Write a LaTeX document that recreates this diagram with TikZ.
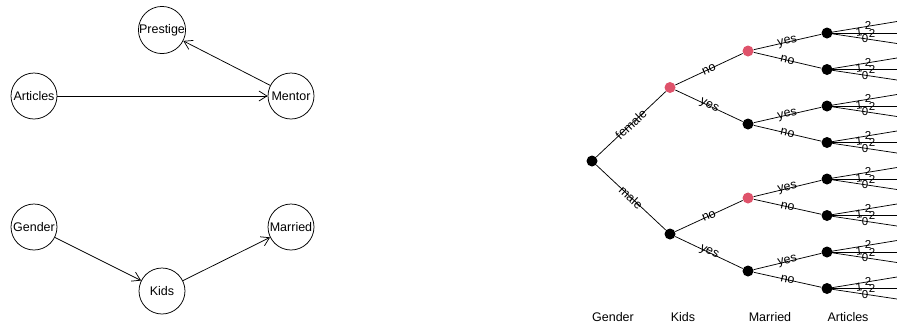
\documentclass[tikz,border=0pt]{standalone}
\usepackage{fontspec}
\setmainfont{Liberation Sans}
\usetikzlibrary{arrows.meta}
\definecolor{pinkred}{HTML}{DF536B}
\begin{document}
\begin{tikzpicture}[x=1pt,y=-1pt, line width=0.75pt,
 var/.style={circle, draw, minimum size=46pt, inner sep=0pt, font=\fontsize{12.5}{13}\selectfont},
 dag/.style={-{Straight Barb[length=8pt,width=10pt]}},
 dot/.style={circle, fill=black, minimum size=11pt, inner sep=0pt},
 pdot/.style={dot, fill=pinkred},
 elab/.style={midway, sloped, inner sep=0pt, font=\fontsize{12.5}{13}\selectfont},
 leaflab/.style={inner sep=0pt, font=\fontsize{11.5}{12}\selectfont},
 lvl/.style={font=\fontsize{12.5}{13}\selectfont}]
\useasboundingbox (0,0) rectangle (897,325);
% ---- DAG ----
\node[var] (prestige) at (162,30) {Prestige};
\node[var] (articles) at (34,96) {Articles};
\node[var] (mentor) at (291,96) {Mentor};
\node[var] (gender) at (34,227) {Gender};
\node[var] (kids) at (162,291) {Kids};
\node[var] (married) at (291,227) {Married};
\draw[dag] (articles) -- (mentor);
\draw[dag] (mentor) -- (prestige);
\draw[dag] (gender) -- (kids);
\draw[dag] (kids) -- (married);
% ---- tree ----
\node[dot] (g) at (592,161) {};
\node[pdot] (k1) at (670,87.5) {};
\node[dot] (k2) at (670,234) {};
\node[pdot] (m1) at (748,51) {};
\node[dot] (m2) at (748,124) {};
\node[pdot] (m3) at (748,198) {};
\node[dot] (m4) at (748,271) {};
\foreach \i/\y in {1/33,2/69.5,3/106,4/142.5,5/179,6/215.5,7/252,8/288.5}{
  \node[dot] (a\i) at (827,\y) {};
  \coordinate (la\i) at (897,\y-11.5);
  \coordinate (lb\i) at (897,\y);
  \coordinate (lc\i) at (897,\y+10.5);
  \draw (a\i.center) -- (la\i);
  \draw (a\i.center) -- (lb\i);
  \draw (a\i.center) -- (lc\i);
  \node[leaflab] at (868,\y-7.5) {2};
  \node[leaflab, rotate=8] at (859,\y-1) {1};
  \node[leaflab] at (872,\y) {2};
  \node[leaflab] at (865,\y+6) {0};
}
\draw (g) -- node[elab] {female} (k1);
\draw (g) -- node[elab] {male} (k2);
\draw (k1) -- node[elab] {no} (m1);
\draw (k1) -- node[elab] {yes} (m2);
\draw (k2) -- node[elab] {no} (m3);
\draw (k2) -- node[elab] {yes} (m4);
\draw (m1) -- node[elab] {yes} (a1);
\draw (m1) -- node[elab] {no} (a2);
\draw (m2) -- node[elab] {yes} (a3);
\draw (m2) -- node[elab] {no} (a4);
\draw (m3) -- node[elab] {yes} (a5);
\draw (m3) -- node[elab] {no} (a6);
\draw (m4) -- node[elab] {yes} (a7);
\draw (m4) -- node[elab] {no} (a8);
% level labels
\node[lvl] (lg) at (613,317) {Gender};
\node[lvl] (lk) at (683,317) {Kids};
\node[lvl] (lm) at (770,317) {Married};
\node[lvl] (la) at (848,317) {Articles};
\end{tikzpicture}
\end{document}
